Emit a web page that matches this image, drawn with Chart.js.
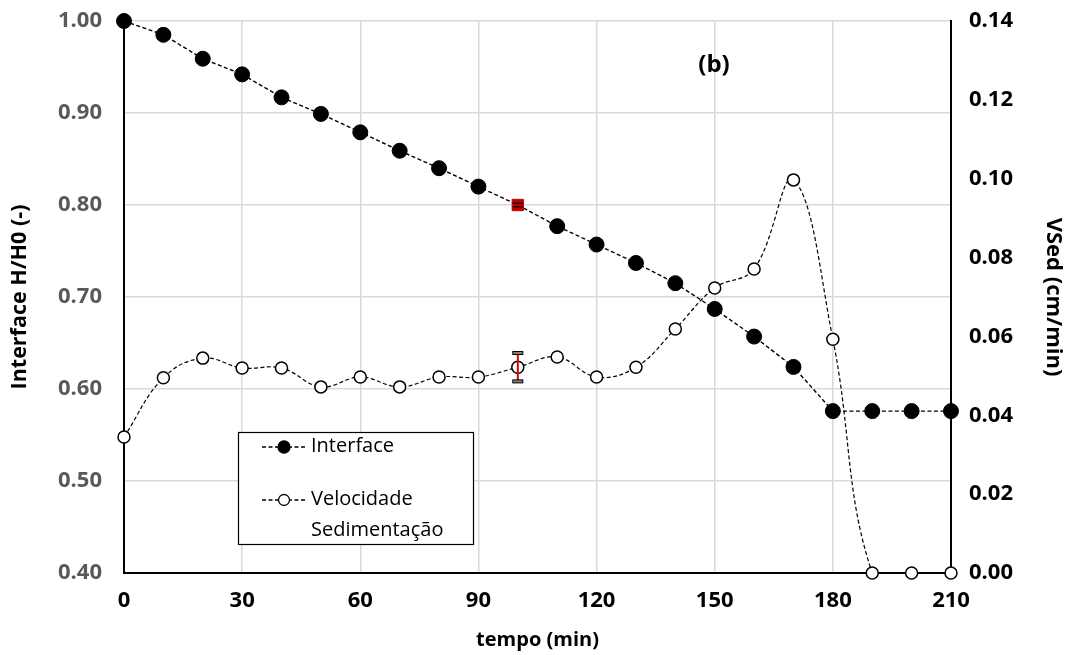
<!DOCTYPE html>
<html>
<head>
<meta charset="utf-8">
<script src="https://cdn.jsdelivr.net/npm/chart.js@4/dist/chart.umd.min.js"></script>
<style>
html,body{margin:0;padding:0;background:#fff;}
#wrap{width:1070px;height:655px;position:relative;}
</style>
</head>
<body>
<div id="wrap"><canvas id="c" width="1070" height="655"></canvas></div>
<script>
const tempo = [0,10,20,30,40,50,60,70,80,90,100,110,120,130,140,150,160,170,180,190,200,210];
const interfaceHH0 = [1.000,0.985,0.959,0.942,0.917,0.899,0.879,0.859,0.840,0.820,0.800,0.777,0.757,0.737,0.715,0.687,0.657,0.624,0.576,0.576,0.576,0.576];
const vsed = [0.0345,0.0495,0.0545,0.0520,0.0520,0.0472,0.0497,0.0472,0.0497,0.0497,0.0522,0.0548,0.0497,0.0522,0.0619,0.0723,0.0771,0.0997,0.0593,0,0,0];
const interfaceErr = [0,0,0,0,0,0,0,0,0,0,0.002,0,0,0,0,0,0,0,0,0,0,0];
const vsedErr = [0,0,0,0,0,0,0,0,0,0,0.0036,0,0,0,0,0,0,0,0,0,0,0];
const xTicks = [0,30,60,90,120,150,180,210];
const labels = {interface:'Interface', vsed1:'Velocidade', vsed2:'Sedimentação', panel:'(b)', x:'tempo (min)', yl:'Interface H/H0 (-)', yr:'VSed (cm/min)'};

const FONT = "'Open Sans', 'DejaVu Sans', sans-serif";
const errIdx = 10;

const errorBars = {
  id:'errorBars',
  afterDatasetsDraw(chart){
    const ctx = chart.ctx, xs = chart.scales.x;
    const y1 = chart.scales.y1, y = chart.scales.y;
    ctx.save();
    vsedErr.forEach((e,i)=>{
      if(!e) return;
      const px = xs.getPixelForValue(tempo[i]);
      const top = y1.getPixelForValue(vsed[i]+e), bot = y1.getPixelForValue(vsed[i]-e);
      ctx.strokeStyle = '#e00000'; ctx.lineWidth = 2; ctx.setLineDash([]);
      ctx.beginPath(); ctx.moveTo(px,top); ctx.lineTo(px,bot); ctx.stroke();
      ctx.fillStyle = '#808080'; ctx.strokeStyle='#000'; ctx.lineWidth=1;
      [top,bot].forEach(yy=>{ctx.fillRect(px-5,yy-1.5,10,3); ctx.strokeRect(px-5,yy-1.5,10,3);});
    });
    interfaceErr.forEach((e,i)=>{
      if(!e) return;
      const px = xs.getPixelForValue(tempo[i]);
      const top = y.getPixelForValue(interfaceHH0[i]+e), bot = y.getPixelForValue(interfaceHH0[i]-e);
      ctx.strokeStyle = '#000'; ctx.lineWidth = 1.2; ctx.setLineDash([]);
      [top,bot].forEach(yy=>{ctx.beginPath(); ctx.moveTo(px-5,yy); ctx.lineTo(px+5,yy); ctx.stroke();});
    });
    ctx.restore();
  }
};

const customLegend = {
  id:'customLegend',
  afterDraw(chart){
    const ctx = chart.ctx;
    ctx.save();
    ctx.fillStyle='#fff'; ctx.fillRect(238,432,235,112);
    ctx.strokeStyle='#000'; ctx.lineWidth=1.2; ctx.setLineDash([]);
    ctx.strokeRect(238.5,432.5,235,112);
    const rows = [{y:447, filled:true},{y:500, filled:false}];
    rows.forEach(r=>{
      ctx.strokeStyle='#000'; ctx.lineWidth=1.3; ctx.setLineDash([4,2.5]);
      ctx.beginPath(); ctx.moveTo(262,r.y); ctx.lineTo(306,r.y); ctx.stroke();
      ctx.setLineDash([]);
      ctx.beginPath(); ctx.arc(284,r.y, r.filled?6:5.5,0,Math.PI*2);
      ctx.fillStyle = r.filled?'#000':'#fff'; ctx.fill();
      ctx.lineWidth=1.3; ctx.stroke();
    });
    ctx.fillStyle='#000'; ctx.font = "20px "+FONT; ctx.textBaseline='middle'; ctx.textAlign='left';
    ctx.fillText(labels.interface,311,446);
    ctx.fillText(labels.vsed1,311,499);
    ctx.fillText(labels.vsed2,311,530);
    ctx.font = "bold 24px "+FONT; ctx.textAlign='center';
    ctx.fillText(labels.panel,714,65);
    ctx.restore();
  }
};

const ptColors = interfaceHH0.map((v,i)=> i===errIdx ? '#c00000' : '#000');
const ptStyles = interfaceHH0.map((v,i)=> i===errIdx ? 'rect' : 'circle');
const ptRadius = interfaceHH0.map((v,i)=> i===errIdx ? 8 : 7.5);

function noPad(s){ s.paddingTop = 0; s.paddingBottom = 0; s.paddingLeft = 0; s.paddingRight = 0; }

new Chart(document.getElementById('c'), {
  type:'line',
  data:{
    datasets:[
      {
        label:labels.interface,
        data: tempo.map((t,i)=>({x:t,y:interfaceHH0[i]})),
        yAxisID:'y',
        borderColor:'#000', borderWidth:1.4, borderDash:[4,2.5],
        pointBackgroundColor:ptColors, pointBorderColor:ptColors,
        pointStyle:ptStyles, pointRadius:ptRadius, pointBorderWidth:1,
        tension:0, clip:false, order:1
      },
      {
        label:labels.vsed1+' '+labels.vsed2,
        data: tempo.map((t,i)=>({x:t,y:vsed[i]})),
        yAxisID:'y1',
        borderColor:'#000', borderWidth:1.2, borderDash:[4,2.5],
        pointBackgroundColor:'#fff', pointBorderColor:'#000',
        pointRadius:6, pointBorderWidth:1.5,
        tension:0.4, clip:false, order:2
      }
    ]
  },
  options:{
    responsive:false, animation:false,
    layout:{padding:{top:21,left:0,right:0,bottom:0}},
    plugins:{legend:{display:false}, tooltip:{enabled:false}},
    scales:{
      x:{
        type:'linear', min:0, max:210,
        afterBuildTicks(s){ s.ticks = xTicks.map(v=>({value:v})); },
        afterFit(s){ s.height = 82; noPad(s); },
        grid:{color:'#d9d9d9', lineWidth:1.5, drawTicks:false},
        border:{color:'#000', width:2},
        ticks:{color:'#000', font:{family:FONT, size:22, weight:'bold'}, padding:15},
        title:{display:true, text:labels.x, color:'#000', font:{family:FONT, size:20, weight:'bold'}, padding:{top:0,bottom:3}}
      },
      y:{
        position:'left', min:0.4, max:1.0,
        afterFit(s){ s.width = 124; noPad(s); },
        grid:{color:'#d9d9d9', lineWidth:1.5, drawTicks:false},
        border:{color:'#000', width:2},
        ticks:{stepSize:0.1, color:'#595959', font:{family:FONT, size:22, weight:'bold'}, padding:22, callback:v=>Number(v).toFixed(2)},
        title:{display:true, text:labels.yl, color:'#000', font:{family:FONT, size:21.5, weight:'bold'}, padding:{top:7,bottom:0}}
      },
      y1:{
        position:'right', min:0, max:0.14,
        afterFit(s){ s.width = 119; noPad(s); },
        grid:{display:false, drawTicks:false},
        border:{color:'#000', width:2},
        ticks:{stepSize:0.02, color:'#000', font:{family:FONT, size:22, weight:'bold'}, padding:18, callback:v=>Number(v).toFixed(2)},
        title:{display:true, text:labels.yr, color:'#000', font:{family:FONT, size:22, weight:'bold'}, padding:{top:4,bottom:0}}
      }
    }
  },
  plugins:[errorBars, customLegend]
});
</script>
</body>
</html>
